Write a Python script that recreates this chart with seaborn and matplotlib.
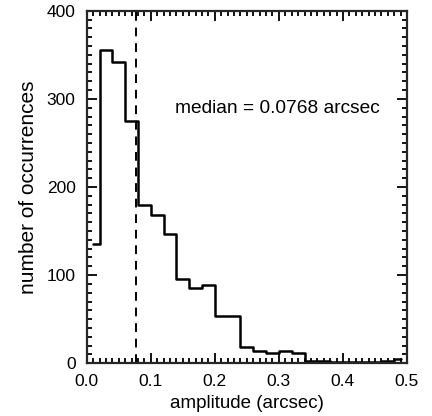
import numpy as np
import pandas as pd
import matplotlib
matplotlib.use("Agg")
import matplotlib.pyplot as plt
from matplotlib.ticker import MultipleLocator
import seaborn as sns

# histogram: bin centres (arcsec) and counts
bin_centres = [0.01, 0.03, 0.05, 0.07, 0.09, 0.11, 0.13, 0.15, 0.17, 0.19,
               0.21, 0.23, 0.25, 0.27, 0.29, 0.31, 0.33, 0.35, 0.37, 0.39,
               0.41, 0.43, 0.45, 0.47, 0.49]
counts = [135, 356, 342, 275, 180, 168, 147, 95, 85, 89,
          53, 53, 18, 14, 11, 14, 12, 3, 2, 1,
          1, 1, 1, 3, 5]
median_amp = 0.0768
x_ticks = [0.0, 0.1, 0.2, 0.3, 0.4, 0.5]
x_ticklabels = ["0.0", "0.1", "0.2", "0.3", "0.4", "0.5"]
y_ticks = [0, 100, 200, 300, 400]

df = pd.DataFrame({"amplitude": bin_centres, "n": counts})

# IDL-style steps: edges half-way between centres, first/last at the centres
c = np.array(bin_centres)
edges = np.concatenate([[c[0]], (c[:-1] + c[1:]) / 2, [c[-1]]]).tolist()

sns.set_style("ticks")
plt.rcParams["font.family"] = ["Liberation Sans", "DejaVu Sans"]
plt.rcParams["text.color"] = "black"
plt.rcParams["axes.labelcolor"] = "black"
plt.rcParams["xtick.color"] = "black"
plt.rcParams["ytick.color"] = "black"

fig = plt.figure(figsize=(4.32, 4.16), dpi=100)
ax = fig.add_axes([0.201, 0.127, 0.741, 0.847])

sns.histplot(data=df, x="amplitude", weights="n", bins=edges,
             element="step", fill=False, color="black", linewidth=1.8, ax=ax)
ax.axvline(median_amp, color="black", linestyle=(0, (4.5, 3.5)), linewidth=1.4)

ax.text(0.138, 289, f"median = {median_amp} arcsec", fontsize=13.8,
        va="center", ha="left")

ax.set_xlim(0, 0.5)
ax.set_ylim(0, 400)
ax.set_xticks(x_ticks)
ax.set_xticklabels(x_ticklabels)
ax.set_yticks(y_ticks)
ax.xaxis.set_minor_locator(MultipleLocator(0.01))
ax.yaxis.set_minor_locator(MultipleLocator(10))
ax.tick_params(which="both", direction="in", top=True, right=True,
               labelsize=12.5, width=1.3, pad=8)
ax.tick_params(which="major", length=7)
ax.tick_params(which="minor", length=3.5)
for s in ax.spines.values():
    s.set_linewidth(1.6)
    s.set_visible(True)

ax.set_xlabel("amplitude (arcsec)", fontsize=13.5, labelpad=4)
ax.set_ylabel("number of occurrences", fontsize=15, labelpad=6)

fig.savefig("out.png", dpi=100)
